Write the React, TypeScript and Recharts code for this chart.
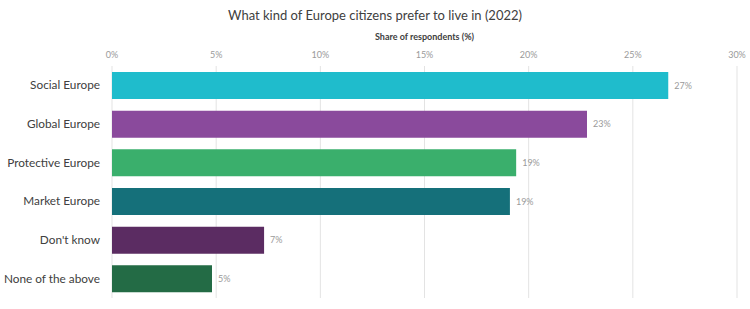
import React from "react";
import { BarChart, Bar, XAxis, YAxis, CartesianGrid, Cell, LabelList } from "recharts";

const categories = ["Social Europe", "Global Europe", "Protective Europe", "Market Europe", "Don't know", "None of the above"];
const shares = [26.7, 22.8, 19.4, 19.1, 7.3, 4.8];
const labels = ["27%", "23%", "19%", "19%", "7%", "5%"];
const colors = ["#1fbccc", "#8a4a9c", "#3aaf6c", "#15707a", "#5b2c62", "#236b45"];
const xTicks = [0, 5, 10, 15, 20, 25, 30];

const data = categories.map((name, i) => ({ name, value: shares[i], label: labels[i] }));

const font = "Lato, 'Open Sans', sans-serif";

// single-line category label, right aligned next to the plot
function CategoryTick({ x, y, payload }: any) {
  return (
    <text x={x} y={y} dy={4} textAnchor="end" fontSize={11.8} fill="#404040" fontFamily={font}>
      {payload.value}
    </text>
  );
}

export default function App() {
  return (
    <div style={{ position: "absolute", left: 0, top: 0, width: 750, height: 309, background: "#fff", fontFamily: font }}>
      <div style={{ position: "absolute", top: 7, left: 0, width: 750, textAlign: "center", fontSize: 13, color: "#404040" }}>
        What kind of Europe citizens prefer to live in (2022)
      </div>
      <div style={{ position: "absolute", top: 31, left: 112, width: 625, textAlign: "center", fontSize: 9, fontWeight: 700, color: "#404040" }}>
        Share of respondents (%)
      </div>
      <BarChart
        width={750}
        height={309}
        data={data}
        layout="vertical"
        margin={{ top: 46, right: 13, left: 0, bottom: 11 }}
      >
        <CartesianGrid horizontal={false} stroke="#e3e3e3" />
        <XAxis
          type="number"
          orientation="top"
          domain={[0, 30]}
          ticks={xTicks}
          tickFormatter={(v) => `${v}%`}
          axisLine={false}
          tickLine={false}
          height={20}
          tick={{ fontSize: 9, fill: "#9a9a9a", fontFamily: font }}
        />
        <YAxis
          type="category"
          dataKey="name"
          width={112}
          axisLine={false}
          tickLine={false}
          tickMargin={6}
          tick={<CategoryTick />}
        />
        <Bar dataKey="value" barSize={27} isAnimationActive={false}>
          {data.map((d, i) => (
            <Cell key={i} fill={colors[i]} />
          ))}
          <LabelList dataKey="label" position="right" offset={6} style={{ fontSize: 9, fill: "#9a9a9a", fontFamily: font }} />
        </Bar>
      </BarChart>
    </div>
  );
}
